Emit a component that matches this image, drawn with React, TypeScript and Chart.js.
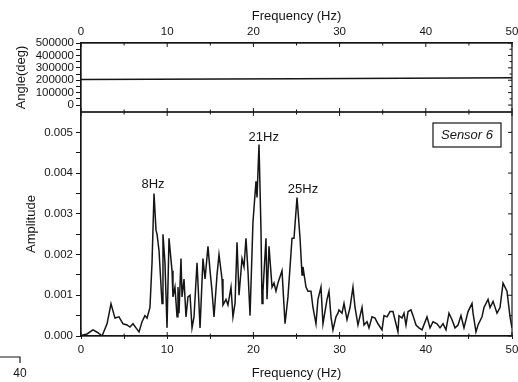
import React, { useEffect, useRef } from "react";
import { Chart, registerables } from "chart.js";

Chart.register(...registerables);

// ---------- data ----------
const freqHz = [
  0.12, 0.7, 1.39, 1.97, 2.44, 3.02, 3.48, 3.94, 4.41, 4.87, 5.34, 5.68, 6.03, 6.38, 6.73, 7.08, 7.42, 7.66,
  8.0, 8.24, 8.47, 8.7, 8.82, 9.05, 9.4, 9.51, 9.74, 9.98, 10.21, 10.56, 10.67, 10.9, 11.14, 11.25, 11.37,
  11.6, 11.72, 11.95, 12.18, 12.41, 12.65, 12.88, 13.11, 13.46, 13.81, 14.15, 14.39, 14.73, 14.97, 15.2,
  15.43, 15.78, 16.01, 16.36, 16.47, 16.82, 17.05, 17.4, 17.63, 17.87, 18.1, 18.33, 18.68, 18.91, 19.14,
  19.37, 19.61, 19.95, 20.3, 20.42, 20.65, 20.88, 21.0, 21.11, 21.46, 21.58, 21.81, 22.16, 22.39, 22.62,
  22.85, 23.32, 23.67, 24.01, 24.48, 24.71, 25.06, 25.41, 25.64, 25.75, 26.1, 26.33, 26.68, 26.91, 27.26,
  27.49, 27.84, 28.07, 28.54, 28.77, 29.0, 29.23, 29.58, 29.81, 29.93, 30.28, 30.51, 30.86, 31.21, 31.55,
  31.79, 32.13, 32.6, 32.83, 33.18, 33.41, 33.76, 34.11, 34.45, 34.92, 35.15, 35.5, 35.85, 36.19, 36.54,
  36.77, 36.89, 37.24, 37.47, 37.7, 37.94, 38.28, 38.52, 38.86, 39.21, 39.56, 40.14, 40.49, 40.84, 41.3,
  41.65, 42.0, 42.34, 42.69, 43.04, 43.39, 43.74, 44.08, 44.43, 44.9, 45.36, 45.48, 45.82, 46.06, 46.52,
  46.75, 47.22, 47.45, 47.8, 48.26, 48.61, 48.96, 49.42, 49.77, 50.0,
];
const amplitude = [
  0.00002, 0.00005, 0.00015, 0.00008, 0.0, 0.0003, 0.00079, 0.00044, 0.00047, 0.0003, 0.00027, 0.00022,
  0.0003, 0.0002, 0.0001, 0.00035, 0.0005, 0.00044, 0.0007, 0.0018, 0.0035, 0.0026, 0.0025, 0.0021, 0.0008,
  0.0025, 0.0018, 0.0002, 0.0024, 0.0016, 0.00096, 0.0012, 0.00047, 0.0012, 0.00056, 0.0019, 0.00096,
  0.0014, 0.00047, 0.00096, 0.001, 0.0002, 0.00047, 0.0018, 0.0002, 0.0019, 0.0014, 0.0022, 0.0016, 0.0011,
  0.00047, 0.0015, 0.002, 0.0014, 0.00076, 0.0009, 0.00076, 0.0012, 0.00047, 0.0008, 0.0023, 0.001, 0.0019,
  0.0017, 0.0024, 0.0016, 0.0005, 0.0028, 0.0038, 0.0034, 0.0047, 0.0026, 0.0008, 0.0011, 0.0024, 0.0009,
  0.0022, 0.0012, 0.0013, 0.0011, 0.0013, 0.0016, 0.0003, 0.00096, 0.0024, 0.0024, 0.0034, 0.0024, 0.0015,
  0.0017, 0.0012, 0.0011, 0.0011, 0.0007, 0.0003, 0.0009, 0.0012, 0.0003, 0.0009, 0.0011, 0.00047, 0.00015,
  0.00047, 0.00056, 0.00064, 0.00056, 0.0008, 0.0004, 0.0007, 0.0012, 0.0007, 0.00027, 0.0007, 0.00027,
  0.00035, 0.0002, 0.00047, 0.00044, 0.0003, 0.00015, 0.0005, 0.00047, 0.0006, 0.0006, 0.0003, 0.0001,
  0.0005, 0.00044, 0.00056, 0.00027, 0.0006, 0.00064, 0.0005, 0.00027, 0.0002, 0.00015, 0.00047, 0.0002,
  0.00035, 0.0003, 0.0002, 0.0003, 0.00015, 0.00056, 0.0004, 0.0002, 0.00027, 0.0005, 0.0002, 0.0006,
  0.0008, 0.00056, 0.0001, 0.00027, 0.00047, 0.0007, 0.0009, 0.0007, 0.00085, 0.00056, 0.0007, 0.0013,
  0.0011, 0.00047, 0.0002,
];
const angleFreq = [0, 25, 50];
const angleDeg = [205000, 212000, 220000];

const freqTicks = [0, 5, 10, 15, 20, 25, 30, 35, 40, 45, 50];
const freqLabelTicks = [0, 10, 20, 30, 40, 50];
const angleTicks = [0, 50000, 100000, 150000, 200000, 250000, 300000, 350000, 400000, 450000, 500000];
const angleLabelTicks = [0, 100000, 200000, 300000, 400000, 500000];
const ampTicks = [0, 0.0005, 0.001, 0.0015, 0.002, 0.0025, 0.003, 0.0035, 0.004, 0.0045, 0.005];
const ampLabelTicks = [0, 0.001, 0.002, 0.003, 0.004, 0.005];

const peakLabels = ["8Hz", "21Hz", "25Hz"];
const peakLabelHz = [8.35, 21.2, 25.75];
const peakLabelAmp = [0.00371, 0.00487, 0.00361];
const sensorLabel = "Sensor 6";
const cornerNote = "40";

const FONT = "'Liberation Sans', Arial, sans-serif";
const INK = "#151515";

const isIn = (arr: number[], v: number) => arr.some((a) => Math.abs(a - v) < 1e-9);

const setTicks = (vals: number[]) => (scale: any) => {
  scale.ticks = vals.map((v) => ({ value: v }));
};

function framePlugin(kind: "top" | "bottom") {
  return {
    id: "frame_" + kind,
    afterDraw(chart: any) {
      const { ctx, chartArea: a } = chart;
      const xs = chart.scales.x;
      const ys = chart.scales.y;
      ctx.save();
      ctx.strokeStyle = INK;
      ctx.lineWidth = 1.2;
      ctx.strokeRect(a.left, a.top, a.right - a.left, a.bottom - a.top);
      ctx.lineWidth = 1;
      // inward ticks on right
      ys.ticks.forEach((t: any) => {
        const y = ys.getPixelForValue(t.value);
        const len = isIn(kind === "top" ? angleLabelTicks : ampLabelTicks, t.value) ? 4 : 2.5;
        ctx.beginPath();
        ctx.moveTo(a.right, y);
        ctx.lineTo(a.right - len, y);
        ctx.stroke();
      });
      // inward ticks on both horizontal borders
      xs.ticks.forEach((t: any) => {
        const x = xs.getPixelForValue(t.value);
        const len = isIn(freqLabelTicks, t.value) ? 4 : 2.5;
        ctx.beginPath();
        ctx.moveTo(x, a.bottom);
        ctx.lineTo(x, a.bottom - len);
        ctx.moveTo(x, a.top);
        ctx.lineTo(x, a.top + len);
        ctx.stroke();
      });
      if (kind === "bottom") {
        ctx.fillStyle = INK;
        ctx.font = `13px ${FONT}`;
        ctx.textAlign = "center";
        ctx.textBaseline = "middle";
        peakLabels.forEach((lab, i) => {
          ctx.fillText(lab, xs.getPixelForValue(peakLabelHz[i]), ys.getPixelForValue(peakLabelAmp[i]));
        });
        // sensor box
        const bw = 68;
        const bh = 24;
        const bx = a.right - 11 - bw;
        const by = a.top + 11;
        ctx.lineWidth = 1.2;
        ctx.strokeRect(bx, by, bw, bh);
        ctx.font = `italic 13px ${FONT}`;
        ctx.fillText(sensorLabel, bx + bw / 2, by + bh / 2 + 0.5);
        // corner note
        ctx.lineWidth = 1.2;
        ctx.beginPath();
        ctx.moveTo(0, 251);
        ctx.lineTo(20, 251);
        ctx.lineTo(20, 257);
        ctx.stroke();
        ctx.font = `12px ${FONT}`;
        ctx.fillText(cornerNote, 20, 268);
      }
      ctx.restore();
    },
  };
}

export default function App() {
  const topRef = useRef<HTMLCanvasElement>(null);
  const botRef = useRef<HTMLCanvasElement>(null);

  useEffect(() => {
    const tickFont = { family: FONT, size: 11.5 };
    const titleFont = { family: FONT, size: 13 };

    const fitX = (h: number) => (s: any) => {
      s.height = h;
      s.paddingLeft = 0;
      s.paddingRight = 0;
    };
    const fitY = (w: number) => (s: any) => {
      s.width = w;
      s.paddingTop = 0;
      s.paddingBottom = 0;
    };

    const top = new Chart(topRef.current as HTMLCanvasElement, {
      type: "line",
      data: {
        datasets: [
          {
            data: angleFreq.map((f, i) => ({ x: f, y: angleDeg[i] })),
            borderColor: INK,
            borderWidth: 1.5,
            pointRadius: 0,
            tension: 0,
          },
        ],
      },
      options: {
        responsive: false,
        animation: false,
        layout: { padding: { left: 14, right: 6, top: 0, bottom: 1 } },
        plugins: { legend: { display: false }, tooltip: { enabled: false } },
        scales: {
          x: {
            type: "linear",
            position: "top",
            min: 0,
            max: 50,
            afterBuildTicks: setTicks(freqTicks),
            afterFit: fitX(43),
            ticks: {
              color: INK,
              font: tickFont,
              padding: 4,
              maxRotation: 0,
              autoSkip: false,
              callback: (v: any) => (isIn(freqLabelTicks, Number(v)) ? String(v) : ""),
            },
            grid: { drawOnChartArea: false, drawTicks: false, color: INK },
            border: { display: true, color: INK, width: 1.2 },
            title: { display: true, text: "Frequency (Hz)", color: INK, font: titleFont, padding: { top: 9, bottom: 0 } },
          },
          y: {
            type: "linear",
            min: -56000,
            max: 500000,
            afterBuildTicks: setTicks(angleTicks),
            afterFit: fitY(67),
            ticks: {
              color: INK,
              font: tickFont,
              padding: 2,
              autoSkip: false,
              callback: (v: any) => (isIn(angleLabelTicks, Number(v)) ? String(v) : ""),
            },
            grid: { drawOnChartArea: false, drawTicks: true, tickLength: 5, color: INK },
            border: { display: true, color: INK, width: 1.2 },
            title: { display: true, text: "Angle(deg)", color: INK, font: titleFont, padding: 0 },
          },
        },
      },
      plugins: [framePlugin("top")],
    } as any);

    const bot = new Chart(botRef.current as HTMLCanvasElement, {
      type: "line",
      data: {
        datasets: [
          {
            data: freqHz.map((f, i) => ({ x: f, y: amplitude[i] })),
            borderColor: INK,
            borderWidth: 1.5,
            pointRadius: 0,
            tension: 0,
          },
        ],
      },
      options: {
        responsive: false,
        animation: false,
        layout: { padding: { left: 24, right: 6, top: 6, bottom: 0 } },
        plugins: { legend: { display: false }, tooltip: { enabled: false } },
        scales: {
          x: {
            type: "linear",
            position: "bottom",
            min: 0,
            max: 50,
            afterBuildTicks: setTicks(freqTicks),
            afterFit: fitX(46),
            ticks: {
              color: INK,
              font: tickFont,
              padding: 4,
              maxRotation: 0,
              autoSkip: false,
              callback: (v: any) => (isIn(freqLabelTicks, Number(v)) ? String(v) : ""),
            },
            grid: { drawOnChartArea: false, drawTicks: true, tickLength: 3, color: INK },
            border: { display: true, color: INK, width: 1.2 },
            title: { display: true, text: "Frequency (Hz)", color: INK, font: titleFont, padding: { top: 2, bottom: 1 } },
          },
          y: {
            type: "linear",
            min: 0,
            max: 0.0055,
            afterBuildTicks: setTicks(ampTicks),
            afterFit: fitY(57),
            ticks: {
              color: INK,
              font: tickFont,
              padding: 3,
              autoSkip: false,
              callback: (v: any) => (isIn(ampLabelTicks, Number(v)) ? Number(v).toFixed(3) : ""),
            },
            grid: { drawOnChartArea: false, drawTicks: true, tickLength: 5, color: INK },
            border: { display: true, color: INK, width: 1.2 },
            title: { display: true, text: "Amplitude", color: INK, font: titleFont, padding: 0 },
          },
        },
      },
      plugins: [framePlugin("bottom")],
    } as any);

    return () => {
      top.destroy();
      bot.destroy();
    };
  }, []);

  return (
    <div style={{ position: "absolute", left: 0, top: 0, width: 518, height: 382, background: "#fff" }}>
      <canvas ref={topRef} width={518} height={113} style={{ position: "absolute", left: 0, top: 0 }} />
      <canvas ref={botRef} width={518} height={276} style={{ position: "absolute", left: 0, top: 106 }} />
    </div>
  );
}
